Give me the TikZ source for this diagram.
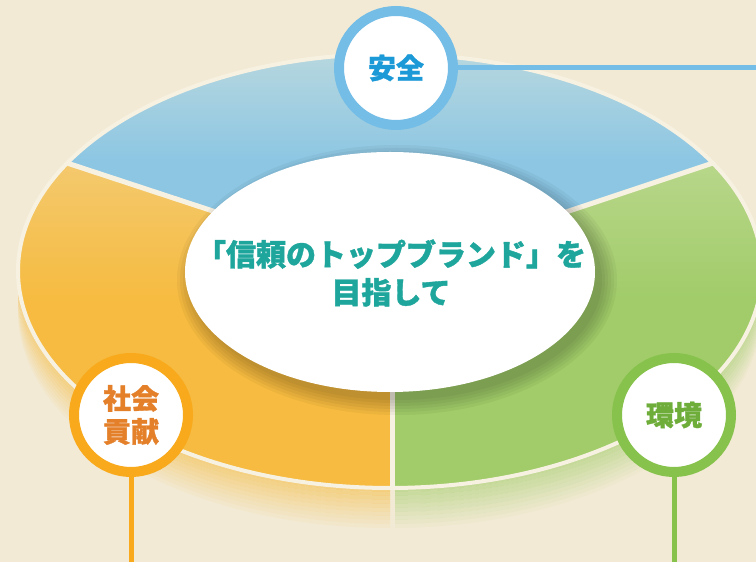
\documentclass[tikz,border=0pt]{standalone}
\usepackage{fontspec}
\newfontfamily\cjk{Noto Sans CJK JP}[BoldFeatures={FakeBold=1.2}]
\usetikzlibrary{shapes.geometric}
\definecolor{bg}{HTML}{F2EAD4}
\definecolor{blueA}{HTML}{B9D8DE}
\definecolor{blueB}{HTML}{8CC6E3}
\definecolor{orangeA}{HTML}{F3CB74}
\definecolor{orangeB}{HTML}{F6BB40}
\definecolor{greenA}{HTML}{BBD88F}
\definecolor{greenB}{HTML}{A1CC69}
\definecolor{rim}{HTML}{F7F1E2}
\definecolor{ringB}{HTML}{74BDE7}
\definecolor{ringO}{HTML}{F8A91C}
\definecolor{ringG}{HTML}{86C24C}
\definecolor{txtB}{HTML}{1C9AD7}
\definecolor{txtO}{HTML}{E4802A}
\definecolor{txtG}{HTML}{6FAD3B}
\definecolor{teal}{HTML}{1FA69C}
\tikzset{
  topface/.style={x radius=372pt, y radius=217pt},
  badge/.style={circle, draw=#1, line width=10pt, fill=white, minimum size=114pt, inner sep=0pt, align=center},
  stem/.style={draw=#1, line width=5pt},
  sep/.style={draw=rim, line width=5pt},
}
\begin{document}
\begin{tikzpicture}[x=1pt,y=1pt]
\useasboundingbox (0,0) rectangle (756,562);
\clip (0,0) rectangle (756,562);
\fill[bg] (0,0) rectangle (756,562);
% side of the disc, fading downwards
\foreach \i in {1,...,10} {
  \pgfmathsetmacro\op{0.55*(1-(\i-1)/10)}
  \begin{scope}
    \clip (-10,-10) rectangle (390,562);
    \fill[orangeB, opacity=\op, even odd rule] (390,{291-(\i-1)*4}) ellipse [topface] (390,{291-\i*4}) ellipse [topface];
  \end{scope}
  \begin{scope}
    \clip (395,-10) rectangle (770,562);
    \fill[greenB, opacity=\op, even odd rule] (390,{291-(\i-1)*4}) ellipse [topface] (390,{291-\i*4}) ellipse [topface];
  \end{scope}
}
% top face slices
\coordinate (P) at (392,292);
\coordinate (UL) at (67,399);
\coordinate (UR) at (713,399);
\coordinate (B) at (392,74);
\begin{scope}
  \clip (390,291) ellipse [topface];
  \begin{scope}
    \clip (392,292) -- (-258,506) -- (-258,800) -- (1042,800) -- (1042,506) -- cycle;
    \shade[top color=blueA, bottom color=blueB] (-10,400) rectangle (770,515);
    \fill[blueB] (-10,280) rectangle (770,401);
  \end{scope}
  \begin{scope}
    \clip (392,292) -- (-258,506) -- (-258,-200) -- (392,-200) -- cycle;
    \shade[top color=orangeA, bottom color=orangeB] (-10,260) rectangle (400,420);
    \fill[orangeB] (-10,60) rectangle (400,261);
  \end{scope}
  \begin{scope}
    \clip (392,292) -- (392,-200) -- (1042,-200) -- (1042,506) -- cycle;
    \shade[top color=greenA, bottom color=greenB] (380,260) rectangle (770,420);
    \fill[greenB] (380,60) rectangle (770,261);
  \end{scope}
\end{scope}
\draw[sep] (P) -- (UL);
\draw[sep] (P) -- (UR);
\draw[sep] (P) -- (B);
\draw[rim, line width=4pt] (390,291) ellipse [topface];
% soft shadow of the centre ellipse
\foreach \k in {16,13,10,7,4,1} {
  \fill[black, opacity=0.04] (397,282) ellipse [x radius={204+\k}, y radius={119+\k}];
}
\node[ellipse, fill=white, minimum width=410pt, minimum height=240pt, inner sep=0pt] (core) at (390,290) {};
\node[text=teal, align=center, font=\cjk\bfseries\fontsize{30}{38}\selectfont] (goal) at (391,289)
  {「信頼のトップブランド」を\\目指して};
% badges
\node[badge=ringB, text=txtB, font=\cjk\bfseries\fontsize{28}{33}\selectfont] (anzen) at (396,494) {安全};
\node[badge=ringO, text=txtO, font=\cjk\bfseries\fontsize{28}{33}\selectfont] (shakai) at (131,147) {社会\\貢献};
\node[badge=ringG, text=txtG, font=\cjk\bfseries\fontsize{28}{33}\selectfont] (kankyo) at (674,147) {環境};
\coordinate (endB) at (760,494);
\coordinate (endO) at (131,-5);
\coordinate (endG) at (674,-5);
\draw[stem=ringB] (anzen) -- (endB);
\draw[stem=ringO] (shakai) -- (endO);
\draw[stem=ringG] (kankyo) -- (endG);
\end{tikzpicture}
\end{document}
